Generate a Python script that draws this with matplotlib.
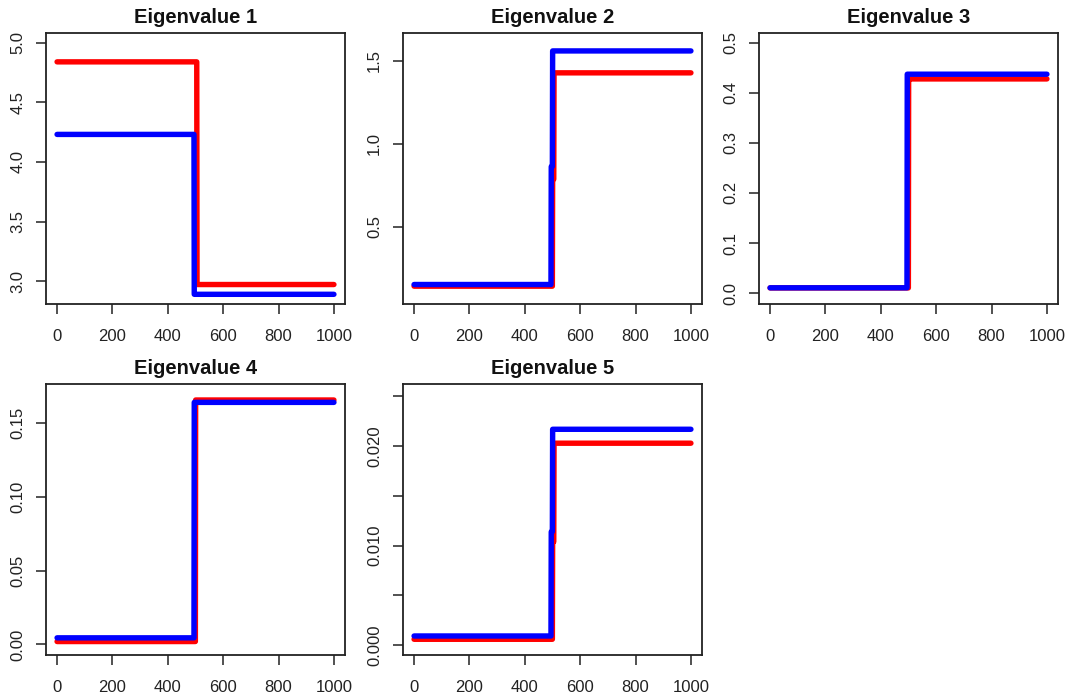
import numpy as np
import matplotlib

matplotlib.use('Agg')
import matplotlib.pyplot as plt

plt.rcParams['font.family'] = ['Liberation Sans', 'DejaVu Sans']

# step breakpoints along the sample index: value before, transition, after
x_red = [1, 500, 501, 505, 506, 1000]
x_blue = [1, 495, 496, 500, 501, 1000]

titles = ['Eigenvalue 1', 'Eigenvalue 2', 'Eigenvalue 3', 'Eigenvalue 4', 'Eigenvalue 5']

# (before, transition, after) levels per eigenvalue
red_levels = [
    (4.838, 4.838, 2.972),
    (0.143, 0.787, 1.428),
    (0.0105, 0.4274, 0.4274),
    (0.0020, 0.1658, 0.1658),
    (0.0006, 0.0104, 0.0203),
]
blue_levels = [
    (4.230, 2.890, 2.890),
    (0.153, 0.863, 1.560),
    (0.0107, 0.4368, 0.4368),
    (0.0045, 0.1642, 0.1642),
    (0.00093, 0.0114, 0.0217),
]

y_limits = [(2.813, 5.084), (0.0386, 1.671), (-0.0206, 0.52),
            (-0.0068, 0.177), (-0.00093, 0.0263)]

y_ticks = [
    [3.0, 3.5, 4.0, 4.5, 5.0],
    [0.5, 1.0, 1.5],
    [0.0, 0.1, 0.2, 0.3, 0.4, 0.5],
    [0.00, 0.05, 0.10, 0.15],
    [0.000, 0.005, 0.010, 0.015, 0.020, 0.025],
]
y_ticklabels = [
    ['3.0', '3.5', '4.0', '4.5', '5.0'],
    ['0.5', '1.0', '1.5'],
    ['0.0', '0.1', '0.2', '0.3', '0.4', '0.5'],
    ['0.00', '0.05', '0.10', '0.15'],
    ['0.000', '', '0.010', '', '0.020', ''],
]
x_ticks = [0, 200, 400, 600, 800, 1000]


def expand(levels):
    lo, mid, hi = levels
    return [lo, lo, mid, mid, hi, hi]


W, H = 1069, 699
fig = plt.figure(figsize=(W / 100, H / 100), dpi=100)

lefts = [46, 403, 759]
tops = [32.5, 383.5]
aw, ah = 299, 271

for k in range(5):
    row, col = divmod(k, 3)
    ax = fig.add_axes([lefts[col] / W, 1 - (tops[row] + ah) / H, aw / W, ah / H])
    ax.plot(x_red, expand(red_levels[k]), color='#ff0000', lw=3.9,
            solid_capstyle='round', solid_joinstyle='round')
    ax.plot(x_blue, expand(blue_levels[k]), color='#0000ff', lw=3.9,
            solid_capstyle='round', solid_joinstyle='round')
    ax.set_xlim(-38.96, 1039.96)
    ax.set_ylim(*y_limits[k])
    ax.set_xticks(x_ticks)
    ax.set_xticklabels([str(t) for t in x_ticks])
    ax.set_yticks(y_ticks[k])
    ax.set_yticklabels(y_ticklabels[k], rotation=90, va='center')
    ax.tick_params(axis='both', direction='out', length=7, width=1.1,
                   color='#222222', labelsize=12, labelcolor='#222222')
    ax.tick_params(axis='x', pad=11)
    ax.tick_params(axis='y', pad=8)
    for s in ax.spines.values():
        s.set_linewidth(1.3)
        s.set_color('#222222')
    ax.set_title(titles[k], fontsize=14.5, fontweight='bold', pad=7, color='#111111')

fig.savefig('out.png', dpi=100)
